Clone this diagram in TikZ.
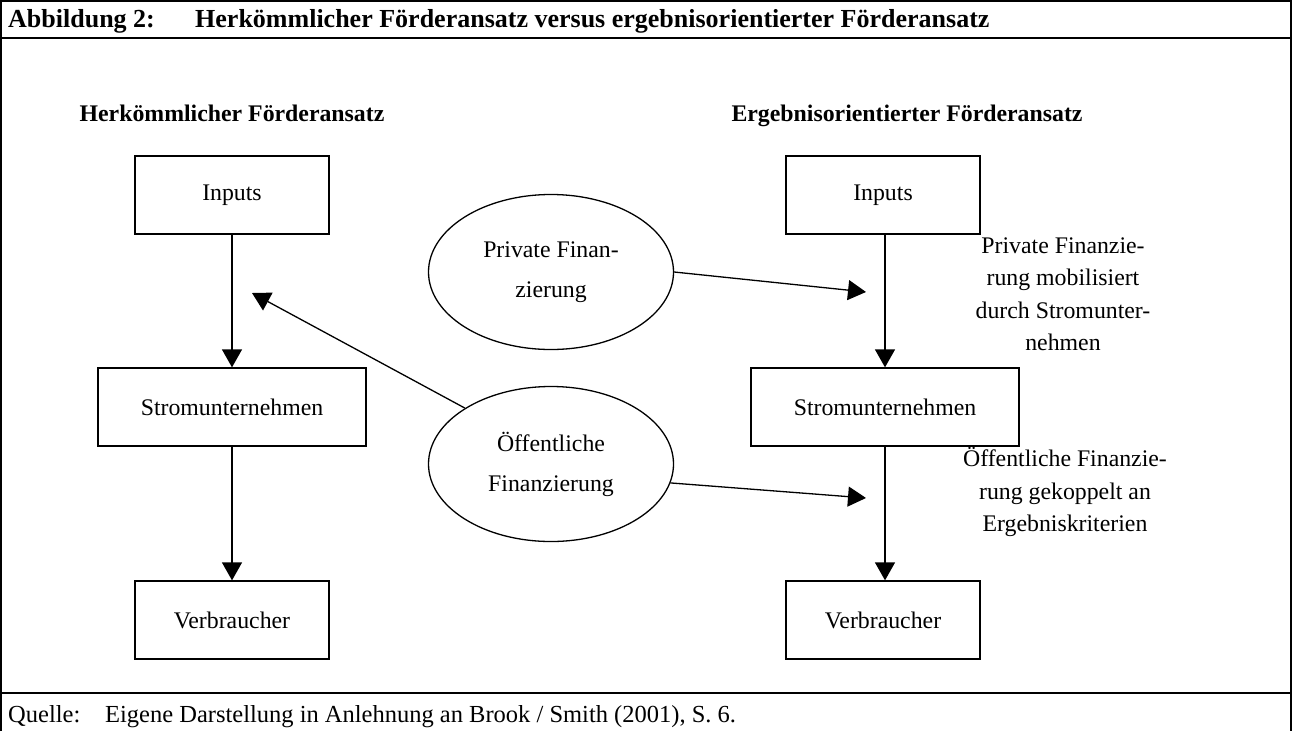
\documentclass[tikz,border=0pt]{standalone}
\usepackage{fontspec}
\setmainfont{Liberation Serif}
\usetikzlibrary{arrows.meta,shapes.geometric}
\begin{document}
\begin{tikzpicture}[x=1pt,y=-1pt,
  every node/.style={font=\fontsize{23.8}{32.5}\selectfont},
  boxnode/.style={draw,line width=1.3pt,inner sep=0pt,minimum width=194pt,minimum height=78pt},
  widebox/.style={boxnode,minimum width=268pt},
  ellnode/.style={draw,line width=1.3pt,ellipse,inner sep=0pt,minimum width=245pt,minimum height=155pt,align=center,font=\fontsize{23.8}{40}\selectfont},
  arr/.style={line width=1.3pt,-{Triangle[length=18pt,width=20pt]}},
  heading/.style={font=\fontsize{23.8}{32.5}\selectfont\bfseries,anchor=base,inner sep=0pt},
  toptext/.style={font=\fontsize{26}{30}\selectfont\bfseries,anchor=base west,inner sep=0pt},
  srctext/.style={font=\fontsize{24.5}{30}\selectfont,anchor=base west,inner sep=0pt},
  sidetext/.style={align=center,inner sep=0pt}]
\useasboundingbox (0,0) rectangle (1292,731);
% frame
\draw[line width=2pt] (1,731) -- (1,1) -- (1291,1) -- (1291,731);
\draw[line width=2pt] (1,38) -- (1291,38);
\draw[line width=2pt] (1,693) -- (1291,693);
% header and source
\node[toptext] (abb) at (8,27) {Abbildung 2:};
\node[toptext] (title) at (195,27) {Herkömmlicher Förderansatz versus ergebnisorientierter Förderansatz};
\node[srctext] (quelle) at (8,722) {Quelle:};
\node[srctext] (src) at (105,722) {Eigene Darstellung in Anlehnung an Brook / Smith (2001), S. 6.};
% headings
\node[heading] (hl) at (232,121) {Herkömmlicher Förderansatz};
\node[heading] (hr) at (907,121) {Ergebnisorientierter Förderansatz};
% left column
\node[boxnode] (inL) at (232,195) {Inputs};
\node[widebox] (stL) at (232,407) {Stromunternehmen};
\node[boxnode] (veL) at (232,620) {Verbraucher};
\draw[arr] (inL) -- (stL);
\draw[arr] (stL) -- (veL);
% right column
\node[boxnode] (inR) at (883,195) {Inputs};
\node[widebox] (stR) at (885,407) {Stromunternehmen};
\node[boxnode] (veR) at (883,620) {Verbraucher};
\draw[arr] (stR.north |- inR.south) -- (stR.north);
\draw[arr] (stR.south) -- (stR.south |- veR.north);
% ellipses
\node[ellnode] (priv) at (551,272) {Private Finan-\\zierung};
\node[ellnode] (oeff) at (551,464) {Öffentliche\\Finanzierung};
\coordinate (tipP) at (866,292);
\coordinate (tipO) at (866,498);
\coordinate (tipL) at (252,293);
\draw[arr] (priv.east) -- (tipP);
\draw[arr] (oeff.-9) -- (tipO);
\draw[arr] (oeff.147) -- (tipL);
% side texts
\node[sidetext] (txtP) at (1063,294) {Private Finanzie-\\rung mobilisiert\\durch Stromunter-\\nehmen};
\node[sidetext] (txtO) at (1065,492) {Öffentliche Finanzie-\\rung gekoppelt an\\Ergebniskriterien};
\end{tikzpicture}
\end{document}
